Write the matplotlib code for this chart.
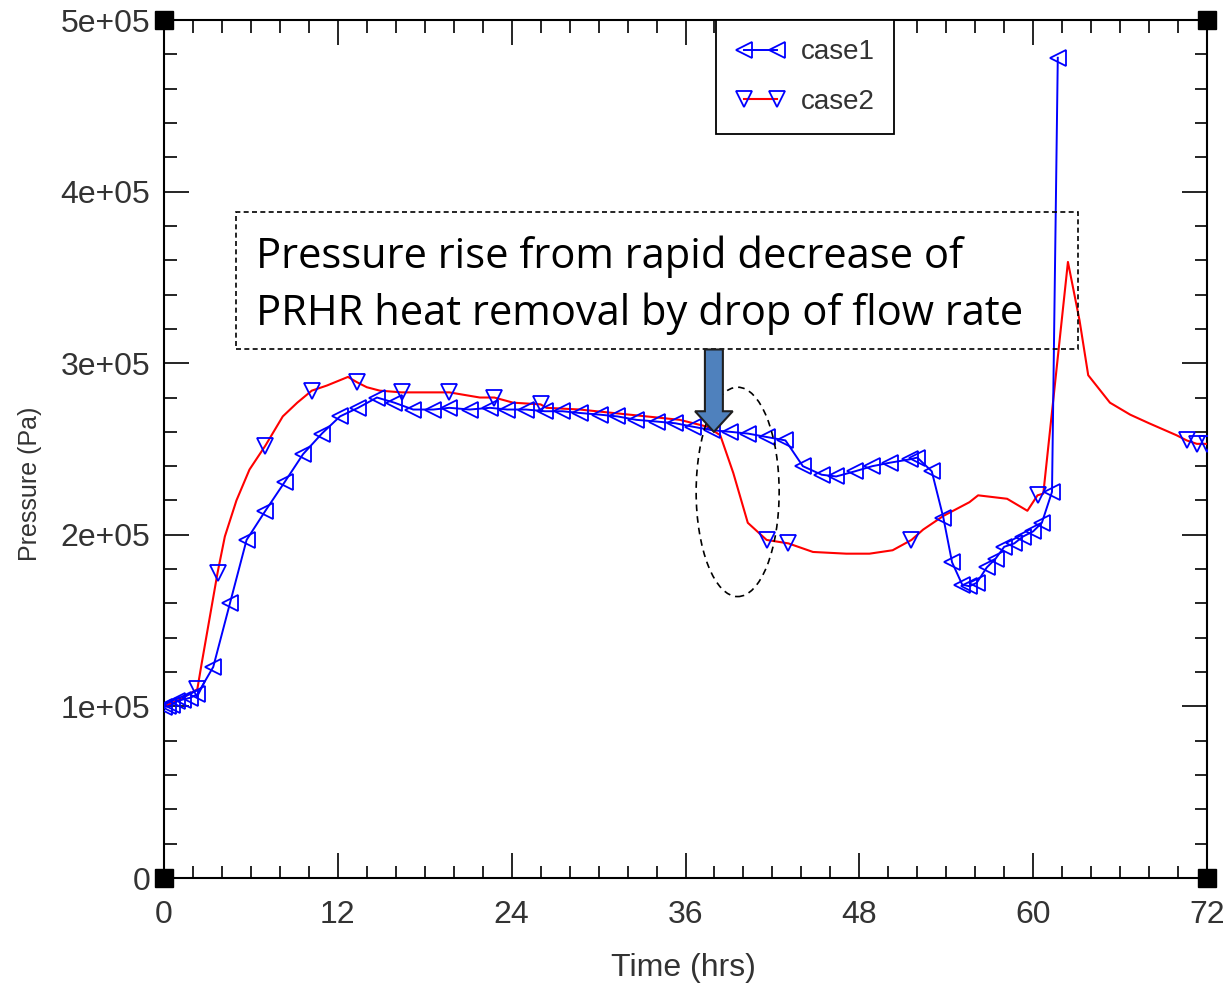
import numpy as np
import matplotlib.pyplot as plt
from matplotlib.ticker import MultipleLocator, FixedLocator
from matplotlib.patches import Ellipse, Rectangle, FancyArrow
from matplotlib.lines import Line2D

# case1: pressure (Pa) vs time (hrs), marker on every point
case1_t = [0.0, 0.28, 0.55, 0.9, 1.3, 1.8, 2.3, 3.4, 4.55, 5.7, 7.0, 8.35, 9.6, 10.9,
           12.15, 13.4, 14.7, 15.9, 17.2, 18.6, 19.7, 21.1, 22.5, 23.7, 25.0, 26.3,
           27.5, 28.7, 30.1, 31.3, 32.6, 34.0, 35.3, 36.5, 37.8, 39.1, 40.3, 41.6,
           42.9, 44.1, 45.4, 46.4, 47.7, 48.9, 50.1, 51.5, 52.0, 53.0, 53.8, 54.4,
           55.1, 55.6, 56.1, 56.8, 57.4, 58.0, 58.7, 59.3, 60.0, 60.6, 61.3, 61.7]
case1_p = [0.997, 1.00, 1.01, 1.03, 1.04, 1.05, 1.07, 1.23, 1.60, 1.97, 2.14, 2.31, 2.47, 2.59,
           2.69, 2.74, 2.80, 2.77, 2.73, 2.73, 2.74, 2.73, 2.74, 2.73, 2.73, 2.72,
           2.72, 2.71, 2.70, 2.69, 2.67, 2.66, 2.65, 2.63, 2.61, 2.60, 2.59, 2.57,
           2.55, 2.40, 2.35, 2.34, 2.37, 2.40, 2.42, 2.44, 2.45, 2.37, 2.10, 1.84,
           1.71, 1.70, 1.72, 1.81, 1.86, 1.93, 1.95, 1.99, 2.02, 2.07, 2.25, 4.78]

# case2: red line, markers only on some points
case2_t = [0.0, 1.1, 2.3, 2.6, 3.7, 4.2, 5.0, 5.9, 7.0, 8.2, 9.2, 10.2, 11.25, 12.7,
           13.3, 14.0, 14.9, 16.4, 18.4, 19.7, 21.8, 22.8, 24.1, 26.0, 26.4, 28.7,
           31.0, 33.3, 35.6, 37.5, 38.4, 39.3, 40.3, 41.6, 43.1, 44.8, 47.1, 48.7,
           50.3, 51.6, 52.4, 53.8, 55.6, 56.2, 58.2, 59.6, 60.3, 60.7, 62.4, 63.2,
           63.8, 65.3, 66.7, 68.0, 69.9, 70.6, 71.3, 72.0]
case2_p = [1.00, 1.04, 1.10, 1.25, 1.78, 1.99, 2.20, 2.38, 2.52, 2.69, 2.77, 2.84, 2.87, 2.92,
           2.89, 2.86, 2.84, 2.83, 2.83, 2.83, 2.80, 2.80, 2.77, 2.76, 2.74, 2.73,
           2.71, 2.69, 2.67, 2.63, 2.58, 2.36, 2.07, 1.97, 1.95, 1.90, 1.89, 1.89,
           1.91, 1.97, 2.03, 2.11, 2.19, 2.23, 2.21, 2.14, 2.23, 2.24, 3.59, 3.25,
           2.93, 2.77, 2.70, 2.65, 2.58, 2.55, 2.53, 2.53]
case2_marks = [2, 4, 8, 11, 14, 17, 19, 21, 23, 33, 34, 39, 46, 55, 56, 57]

xticks = [0, 12, 24, 36, 48, 60, 72]
yticks = [0, 1e5, 2e5, 3e5, 4e5, 5e5]
ytick_labels = ['0', '1e+05', '2e+05', '3e+05', '4e+05', '5e+05']
note_lines = ['Pressure rise from rapid decrease of',
              'PRHR heat removal by drop of flow rate']

plt.rcParams['font.family'] = ['Liberation Sans', 'DejaVu Sans']

fig = plt.figure(figsize=(12.25, 9.89), dpi=100)
ax = fig.add_axes([164 / 1225, 1 - 878 / 989, 1043 / 1225, 858 / 989])

c1t = np.array(case1_t)
c1p = np.array(case1_p) * 1e5
c2t = np.array(case2_t)
c2p = np.array(case2_p) * 1e5

ax.plot(c2t, c2p, '-', color='#ff0000', lw=1.5, zorder=3)
ax.plot(c1t, c1p, '-', color='#0000ff', lw=1.4, marker='<', ms=11,
        mfc='none', mec='#0000ff', mew=1.3, zorder=4)
ax.plot(c2t[case2_marks], c2p[case2_marks], 'v', ms=11, mfc='none',
        mec='#0000ff', mew=1.3, zorder=5)

ax.set_xlim(0, 72)
ax.set_ylim(0, 5e5)
ax.xaxis.set_major_locator(FixedLocator(xticks))
ax.xaxis.set_minor_locator(MultipleLocator(2))
ax.yaxis.set_major_locator(FixedLocator(yticks))
ax.yaxis.set_minor_locator(MultipleLocator(2e4))
ax.set_yticklabels(ytick_labels)

ax.tick_params(which='both', direction='in', top=True, right=True, width=1.2,
               color='black', labelsize=23, labelcolor='#333333')
ax.tick_params(which='major', length=18)
ax.tick_params(which='minor', length=9)
ax.tick_params(axis='y', pad=10)
ax.tick_params(axis='x', pad=16)
for sp in ax.spines.values():
    sp.set_linewidth(1.5)

ax.set_xlabel('Time (hrs)', fontsize=23, color='#333333')
ax.set_ylabel('Pressure (Pa)', fontsize=18, color='#333333')
ax.xaxis.set_label_coords(0.4976, -0.105)
ax.xaxis.label.set_va('center')
ax.yaxis.set_label_coords(-0.128, 0.46)
ax.yaxis.label.set_va('center')

# black squares at the corners
ax.plot([0, 1, 0, 1], [0, 0, 1, 1], 's', color='black', ms=13,
        transform=ax.transAxes, clip_on=False, zorder=10)

# legend
h1 = Line2D([], [], color='#0000ff', lw=1.4, marker='<', ms=11, mfc='none',
            mec='#0000ff', mew=1.3)
h2 = Line2D([], [], color='#ff0000', lw=1.5, marker='v', ms=11, mfc='none',
            mec='#0000ff', mew=1.3)
leg = ax.legend([h1, h2], ['case1', 'case2'], loc='upper left',
                bbox_to_anchor=(0.529, 1.0), numpoints=2, fontsize=20,
                handlelength=1.8, fancybox=False, framealpha=1,
                edgecolor='black', borderpad=0.7, labelspacing=0.85,
                handletextpad=0.55, borderaxespad=0)
leg.get_frame().set_linewidth(1.3)
for txt in leg.get_texts():
    txt.set_color('#333333')

# annotation: dashed box, text, arrow, ellipse
ax.add_patch(Rectangle((4.97, 3.08e5), 63.1 - 4.97, 0.80e5, fill=False,
                       ls=(0, (3, 2)), lw=1.2, ec='black', zorder=6))
ax.text(6.35, 3.555e5, note_lines[0], fontsize=30, va='baseline', ha='left',
        family=['Open Sans', 'DejaVu Sans'], zorder=7)
ax.text(6.35, 3.22e5, note_lines[1], fontsize=30, va='baseline', ha='left',
        family=['Open Sans', 'DejaVu Sans'], zorder=7)
ax.add_patch(FancyArrow(37.96, 3.08e5, 0, -0.48e5, width=1.24,
                        head_width=2.6, head_length=0.12e5,
                        length_includes_head=True, fc='#4f81bd', ec='#1f1f1f',
                        lw=1.5, zorder=8))
ax.add_patch(Ellipse((39.6, 2.25e5), 5.73, 1.22e5, fill=False,
                     ls=(0, (4, 3)), lw=1.2, ec='black', zorder=6))

fig.savefig('out.png', dpi=100)
